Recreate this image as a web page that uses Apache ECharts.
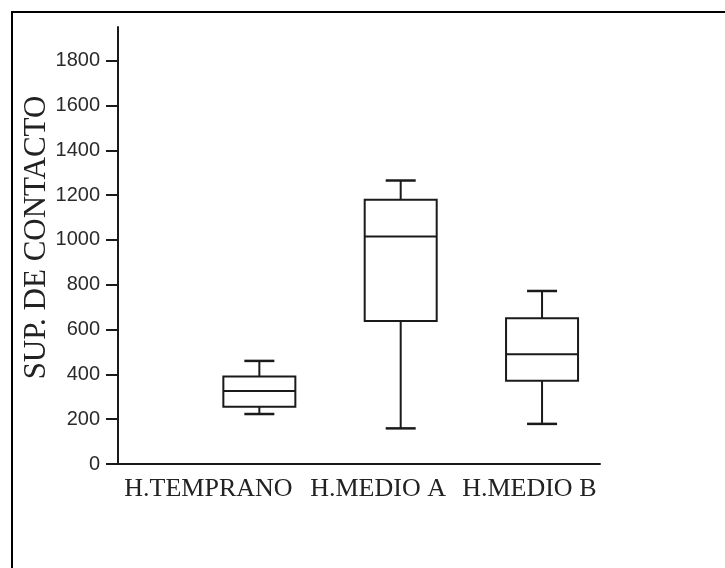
<!DOCTYPE html>
<html>
<head>
<meta charset="utf-8">
<script src="https://cdn.jsdelivr.net/npm/echarts@6/dist/echarts.min.js"></script>
<style>
  html, body { margin: 0; padding: 0; background: #fff; }
  #chart { width: 725px; height: 568px; }
</style>
</head>
<body>
<div id="chart"></div>
<script>
// Groups and their five-number summaries
const categories = ['H.TEMPRANO', 'H.MEDIO A', 'H.MEDIO B'];
const lowWhisker = [223, 159, 179];
const q1 = [255, 638, 372];
const median = [326, 1015, 490];
const q3 = [390, 1179, 650];
const highWhisker = [460, 1265, 772];
const yTicks = [0, 200, 400, 600, 800, 1000, 1200, 1400, 1600, 1800];

const ink = '#1a1a1a';

// One row per group: [position, min, Q1, median, Q3, max]
const boxData = categories.map((c, i) => [i + 1, lowWhisker[i], q1[i], median[i], q3[i], highWhisker[i]]);

function renderBox(params, api) {
  const x = api.value(0);
  const pMin = api.coord([x, api.value(1)]);
  const pQ1 = api.coord([x, api.value(2)]);
  const pMed = api.coord([x, api.value(3)]);
  const pQ3 = api.coord([x, api.value(4)]);
  const pMax = api.coord([x, api.value(5)]);
  const cx = pMed[0];
  const half = 36;
  const cap = 15;
  const line = (x1, y1, x2, y2, w) => ({
    type: 'line',
    shape: { x1, y1, x2, y2 },
    style: { stroke: ink, lineWidth: w }
  });
  return {
    type: 'group',
    children: [
      line(cx, pMax[1], cx, pQ3[1], 2),
      line(cx, pQ1[1], cx, pMin[1], 2),
      line(cx - cap, pMax[1], cx + cap, pMax[1], 2.5),
      line(cx - cap, pMin[1], cx + cap, pMin[1], 2.5),
      {
        type: 'rect',
        shape: { x: cx - half, y: pQ3[1], width: half * 2, height: pQ1[1] - pQ3[1] },
        style: { fill: '#fff', stroke: ink, lineWidth: 2 }
      },
      line(cx - half, pMed[1], cx + half, pMed[1], 2)
    ]
  };
}

const chart = echarts.init(document.getElementById('chart'), null, { renderer: 'canvas' });

chart.setOption({
  animation: false,
  backgroundColor: '#fff',
  graphic: [{
    type: 'rect',
    shape: { x: 12, y: 12, width: 800, height: 700 },
    style: { fill: 'none', stroke: '#000', lineWidth: 2 },
    silent: true
  }],
  grid: { left: 118, right: 125, top: 27, bottom: 104, outerBoundsMode: 'none' },
  xAxis: {
    type: 'value',
    min: 0,
    max: 3.41,
    axisLine: { show: true, lineStyle: { color: ink, width: 2 } },
    axisTick: { show: false },
    splitLine: { show: false },
    // group names sit slightly left of their boxes
    axisLabel: {
      customValues: [0.64, 1.84, 2.91],
      formatter: (v) => categories[Math.round(v) - 1] || '',
      color: '#222',
      fontFamily: 'Liberation Serif',
      fontSize: 26,
      margin: 12
    }
  },
  yAxis: {
    type: 'value',
    min: 0,
    max: 1950,
    name: 'SUP. DE CONTACTO',
    nameLocation: 'middle',
    nameRotate: 90,
    nameGap: 66,
    nameMoveOverlap: false,
    nameTextStyle: {
      color: '#222',
      fontFamily: 'Liberation Serif',
      fontSize: 31,
      padding: [0, 0, 0, 16]
    },
    axisLine: { show: true, lineStyle: { color: ink, width: 2 } },
    axisTick: { show: true, length: 12, customValues: yTicks, lineStyle: { color: ink, width: 2 } },
    axisLabel: {
      customValues: yTicks,
      formatter: (v) => String(v),
      color: '#2a2a2a',
      fontFamily: 'Liberation Sans',
      fontSize: 20,
      margin: 18
    },
    splitLine: { show: false }
  },
  series: [{
    type: 'custom',
    renderItem: renderBox,
    encode: { x: 0, y: [1, 2, 3, 4, 5] },
    data: boxData,
    clip: false
  }]
});
</script>
</body>
</html>
